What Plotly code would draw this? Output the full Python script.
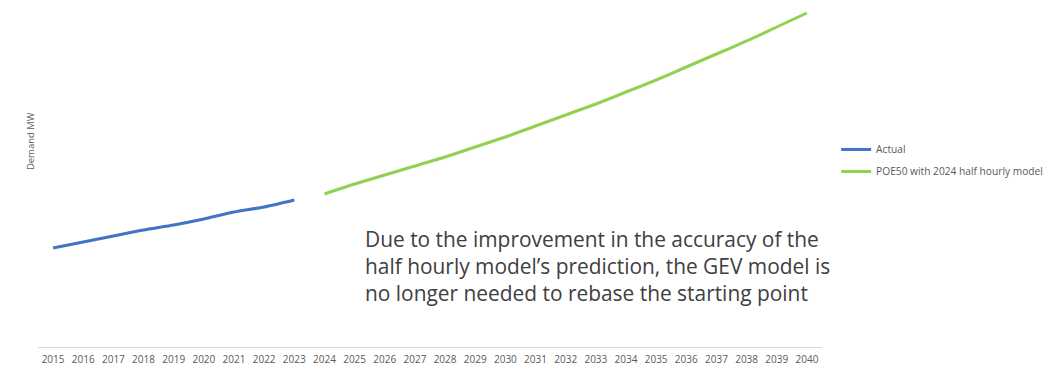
import plotly.graph_objects as go

# Years on the category axis
years = [str(y) for y in range(2015, 2041)]

# Actual demand (MW), 2015-2023
actual_years = years[:9]
actual_mw = [990, 1050, 1110, 1170, 1220, 1280, 1350, 1400, 1470]

# POE50 forecast with the 2024 half hourly model (MW), 2024-2040
poe50_years = years[9:]
poe50_mw = [1530, 1630, 1720, 1810, 1900, 2000, 2100, 2210, 2320, 2430,
            2550, 2670, 2800, 2930, 3060, 3200, 3340]

note = ("Due to the improvement in the accuracy of the<br>"
        "half hourly model\u2019s prediction, the GEV model is<br>"
        "no longer needed to rebase the starting point")

fig = go.Figure()
fig.add_trace(go.Scatter(
    x=actual_years, y=actual_mw, name="Actual", mode="lines",
    line=dict(color="#4472C4", width=3, shape="spline", smoothing=0.6),
    legendgroup="a",
))
fig.add_trace(go.Scatter(
    x=poe50_years, y=poe50_mw, name="POE50 with 2024 half hourly model", mode="lines",
    line=dict(color="#92D050", width=3, shape="spline", smoothing=0.6),
    legendgroup="b",
))

# Explanatory note inside the plot area
fig.add_annotation(
    text=note, xref="paper", yref="paper", x=0.415, y=0.362,
    xanchor="left", yanchor="top", align="left", showarrow=False,
    font=dict(family="Open Sans", size=20.9, color="#404040"),
)

# Y axis title
fig.add_annotation(
    text="Demand MW", xref="paper", yref="paper", x=-0.0102, y=0.602,
    xanchor="center", yanchor="middle", textangle=-90, showarrow=False,
    font=dict(family="Open Sans", size=9.5, color="#595959"),
)

fig.update_layout(
    width=1047, height=367,
    margin=dict(l=38, r=225, t=5, b=20, autoexpand=False),
    paper_bgcolor="white", plot_bgcolor="white",
    font=dict(family="Open Sans", color="#595959"),
    showlegend=True,
    legend=dict(
        x=1.018, y=0.62, xanchor="left", yanchor="top",
        font=dict(size=10.2, color="#595959"),
        itemwidth=30, tracegroupgap=3, bgcolor="rgba(0,0,0,0)",
    ),
    xaxis=dict(
        type="category", categoryorder="array", categoryarray=years,
        showline=True, linecolor="#D9D9D9", linewidth=1,
        showgrid=False, ticks="", tickfont=dict(size=10, color="#595959"),
        ticklabelstandoff=3, automargin=False,
        range=[-0.5, len(years) - 0.5], fixedrange=True,
    ),
    yaxis=dict(
        range=[0, 3420], showgrid=False, showticklabels=False, ticks="",
        zeroline=False, showline=False, automargin=False,
    ),
)

fig.write_html("out.html")
